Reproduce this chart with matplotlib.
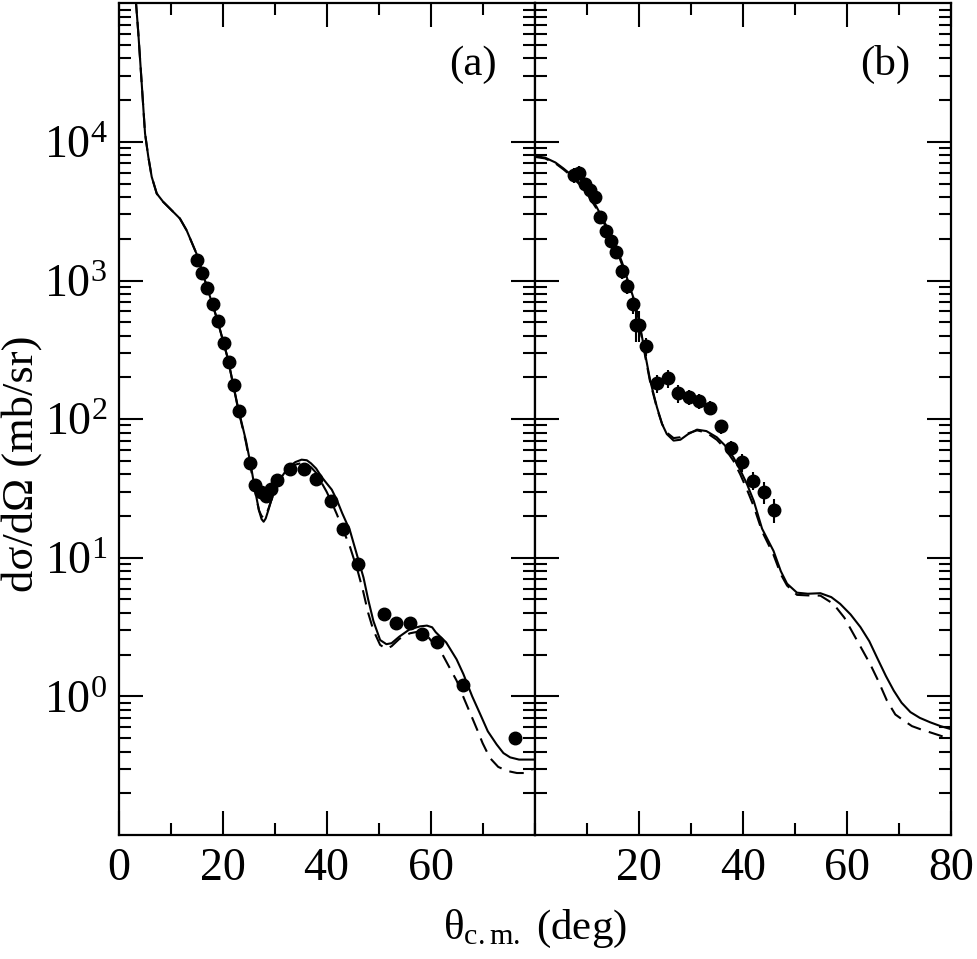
import numpy as np
import matplotlib
matplotlib.use("Agg")
import matplotlib.pyplot as plt
from matplotlib.ticker import FixedLocator, LogLocator, NullFormatter, MultipleLocator

plt.rcParams['font.family'] = ['Liberation Serif', 'DejaVu Serif']
plt.rcParams['mathtext.fontset'] = 'custom'
plt.rcParams['mathtext.rm'] = 'Liberation Serif'
plt.rcParams['mathtext.it'] = 'Liberation Serif:italic'

# panel (a): data points
xa_data = [15.0, 16.1, 17.1, 18.1, 19.1, 20.2, 21.2, 22.2, 23.2, 25.3, 26.3, 27.3,
           28.4, 29.4, 30.4, 33.0, 35.7, 38.0, 40.8, 43.1, 46.1, 51.1, 53.4, 56.1,
           58.4, 61.2, 66.3, 76.3]
ya_data = [1400, 1140, 883, 680, 510, 356, 260, 175, 114, 47.9, 33.7, 30,
           28, 31.4, 36.5, 43.5, 44, 37.3, 25.6, 16, 9.0, 3.93, 3.39, 3.40,
           2.80, 2.46, 1.21, 0.503]

# panel (a): solid curve
xa_solid = [2.9, 3.37, 3.81, 4.46, 5.1, 5.73, 6.38, 7.35, 8.6, 9.9, 11.8, 13.1, 15.0,
            17.0, 19.0, 21.0, 23.0, 24.5, 25.5, 26.0, 26.5, 27.0, 27.5, 27.9, 28.3,
            28.8, 29.5, 30.3, 31.0, 32.0, 33.0, 34.0, 35.2, 36.2, 37.0, 38.0, 39.0,
            40.0, 41.0, 42.0, 43.0, 44.5, 46.0, 47.1, 48.0, 49.0, 50.3, 51.5, 52.5,
            54.0, 56.0, 58.0, 59.3, 60.3, 61.0, 63.0, 65.0, 66.3, 68.0, 69.5, 71.0,
            72.7, 74.0, 75.3, 77.0, 78.5, 80.0]
ya_solid = [1.8e5, 1.0e5, 6.07e4, 2.64e4, 1.15e4, 7.8e3, 5.6e3, 4.24e3, 3.69e3, 3.3e3,
            2.8e3, 2.3e3, 1.56e3, 900, 520, 275, 120, 70, 45, 35, 27.5, 22, 19,
            18.2, 19.2, 22, 27, 32, 36.5, 41.5, 46, 49, 51, 50.5, 48, 44, 38.5,
            34.5, 31, 26, 21, 15.7, 10, 7.2, 5.0, 3.5, 2.55, 2.38, 2.42, 2.7, 3.05,
            3.2, 3.24, 3.15, 2.9, 2.45, 1.85, 1.45, 1.0, 0.75, 0.56, 0.45, 0.39,
            0.363, 0.35, 0.35, 0.35]

# panel (a): dashed curve
xa_dash = [2.9, 3.37, 3.81, 4.46, 5.1, 5.73, 6.38, 7.35, 8.6, 9.9, 11.8, 13.1, 15.0,
           17.0, 19.0, 21.0, 23.0, 24.5, 25.5, 26.0, 26.5, 27.0, 27.5, 27.9, 28.4,
           28.9, 29.6, 30.3, 31.0, 32.0, 33.0, 34.0, 35.0, 36.0, 37.0, 38.0, 39.0,
           40.0, 41.0, 42.0, 43.0, 44.5, 46.0, 47.0, 48.0, 49.0, 50.3, 51.5, 52.5,
           54.0, 56.0, 58.0, 59.0, 60.0, 62.0, 63.5, 65.0, 66.5, 68.0, 69.0, 70.0,
           71.4, 73.0, 74.7, 76.6, 78.0, 79.0, 80.0]
ya_dash = [1.8e5, 1.0e5, 6.07e4, 2.64e4, 1.15e4, 7.8e3, 5.6e3, 4.24e3, 3.69e3, 3.3e3,
           2.8e3, 2.3e3, 1.56e3, 900, 520, 275, 118, 68, 43, 34, 27, 22, 20,
           19.5, 20.5, 23, 27.5, 31.5, 35, 40, 44, 47, 48, 47, 45, 41, 35,
           30, 25, 20.5, 16.5, 12, 8, 5.8, 4.0, 3.0, 2.35, 2.2, 2.3, 2.6, 2.85,
           2.95, 2.85, 2.55, 2.1, 1.65, 1.3, 0.95, 0.7, 0.57, 0.46, 0.36, 0.31,
           0.29, 0.28, 0.28, 0.295, 0.30]

# panel (b): data points with errors
xb_data = [7.5, 8.6, 9.7, 10.7, 11.6, 12.6, 13.7, 14.7, 15.7, 16.75, 17.8, 18.9,
           19.4, 20.0, 21.4, 23.5, 25.6, 27.6, 29.6, 31.6, 33.7, 35.8, 37.8, 39.8,
           41.9, 44.0, 45.9]
yb_data = [5750, 6000, 5000, 4500, 4000, 2850, 2290, 1920, 1610, 1170, 915, 675,
           480, 480, 337, 182, 198, 154, 144, 135, 121, 88.5, 62, 49, 36, 30, 22.2]
yb_relerr = [0.12, 0.12, 0.1, 0.1, 0.1, 0.1, 0.1, 0.1, 0.1, 0.12, 0.12, 0.15,
             0.25, 0.25, 0.15, 0.15, 0.15, 0.15, 0.12, 0.12, 0.12, 0.12, 0.12, 0.15,
             0.15, 0.18, 0.2]

# panel (b): solid curve
xb_solid = [0.0, 2.0, 4.0, 5.5, 7.0, 8.7, 10.3, 11.9, 13.5, 15.2, 16.8, 18.3, 19.3,
            20.3, 21.2, 22.2, 23.5, 24.5, 25.4, 26.7, 28.0, 29.5, 31.2, 33.0, 35.0,
            36.5, 38.2, 39.5, 40.8, 42.1, 43.7, 45.9, 47.3, 48.5, 50.4, 52.5, 54.9,
            57.0, 58.7, 60.7, 62.6, 64.3, 65.8, 67.5, 69.0, 70.5, 72.2, 74.0, 76.0,
            78.0, 80.0]
yb_solid = [7900, 7700, 7100, 6450, 5800, 5000, 4200, 3400, 2600, 1950, 1350, 900,
            690, 460, 300, 190, 122, 92, 78, 70, 71, 78, 84, 82, 74, 65, 53, 43, 34,
            25.7, 16.2, 11.2, 8.0, 6.5, 5.6, 5.5, 5.55, 5.2, 4.65, 3.9, 3.16, 2.5,
            1.9, 1.4, 1.1, 0.9, 0.77, 0.70, 0.65, 0.61, 0.58]

# panel (b): dashed curve
xb_dash = [0.0, 2.0, 4.0, 5.5, 7.0, 8.7, 10.3, 11.9, 13.5, 15.2, 16.8, 18.3, 19.3,
           20.3, 21.2, 22.2, 23.5, 24.5, 25.4, 26.7, 28.0, 29.5, 31.2, 33.0, 35.0,
           36.5, 38.2, 39.5, 40.8, 42.1, 43.7, 45.9, 47.3, 48.5, 50.4, 52.5, 54.9,
           57.4, 59.5, 61.3, 63.0, 64.5, 66.0, 67.7, 69.3, 70.9, 72.5, 74.1, 76.0,
           78.0, 80.0]
yb_dash = [7800, 7600, 7000, 6350, 5700, 4900, 4100, 3300, 2520, 1880, 1300, 870,
           660, 445, 290, 185, 120, 92, 80, 73, 74, 79, 83, 80, 71, 62, 50, 40, 31,
           23.5, 15.5, 10.5, 7.6, 6.3, 5.4, 5.35, 5.33, 4.65, 3.7, 2.8, 2.15, 1.7,
           1.3, 0.93, 0.74, 0.67, 0.61, 0.58, 0.55, 0.52, 0.49]

decades = [1e0, 1e1, 1e2, 1e3, 1e4]
decade_labels = [r'$10^{%d}$' % int(np.log10(d)) for d in decades]

fig = plt.figure(figsize=(9.77, 9.59), dpi=100)
ax1 = fig.add_axes([0.1213, 0.1293, 0.4259, 0.8673])
ax2 = fig.add_axes([0.5472, 0.1293, 0.4262, 0.8673])


def style(ax):
    ax.set_yscale('log')
    ax.set_xlim(0, 80)
    ax.set_ylim(0.1, 1e5)
    ax.xaxis.set_major_locator(MultipleLocator(20))
    ax.xaxis.set_minor_locator(MultipleLocator(10))
    ax.yaxis.set_major_locator(FixedLocator(decades))
    ax.yaxis.set_minor_locator(LogLocator(base=10, subs=np.arange(2, 10), numticks=20))
    ax.yaxis.set_minor_formatter(NullFormatter())
    ax.tick_params(which='both', direction='in', top=True, right=True, width=1.5)
    ax.tick_params(which='major', length=17, labelsize=33)
    ax.tick_params(which='minor', length=8.5)
    ax.tick_params(axis='x', pad=9)
    ax.tick_params(axis='y', pad=8)
    for s in ax.spines.values():
        s.set_linewidth(1.6)


style(ax1)
style(ax2)

ax1.plot(xa_solid, ya_solid, color='black', lw=1.5)
ax1.plot(xa_dash, ya_dash, color='black', lw=1.5, dashes=(7, 4))
ax1.plot(xa_data, ya_data, 'o', color='black', ms=9)
ax1.set_xticks([0, 20, 40, 60])
ax1.set_xticklabels(['0', '20', '40', '60'])
ax1.set_yticklabels(decade_labels)
ax1.text(0.852, 0.926, '(a)', transform=ax1.transAxes, fontsize=31, ha='center', va='center')

ax2.plot(xb_solid, yb_solid, color='black', lw=1.5)
ax2.plot(xb_dash, yb_dash, color='black', lw=1.5, dashes=(7, 4))
yerr_b = [y * r for y, r in zip(yb_data, yb_relerr)]
ax2.errorbar(xb_data, yb_data, yerr=yerr_b, fmt='o', color='black', ms=9,
             elinewidth=1.5, capsize=0)
ax2.set_xticks([20, 40, 60, 80])
ax2.set_xticklabels(['20', '40', '60', '80'])
ax2.set_yticklabels([])
ax2.text(0.842, 0.926, '(b)', transform=ax2.transAxes, fontsize=31, ha='center', va='center')

fig.text(0.022, 0.516, 'dσ/dΩ (mb/sr)', rotation=90, fontsize=32, ha='center', va='center')
fig.text(0.5472, 0.021, r'θ$_{\mathrm{c.m.}}$ (deg)', fontsize=31, ha='center', va='baseline')

fig.savefig('out.png', dpi=100)
